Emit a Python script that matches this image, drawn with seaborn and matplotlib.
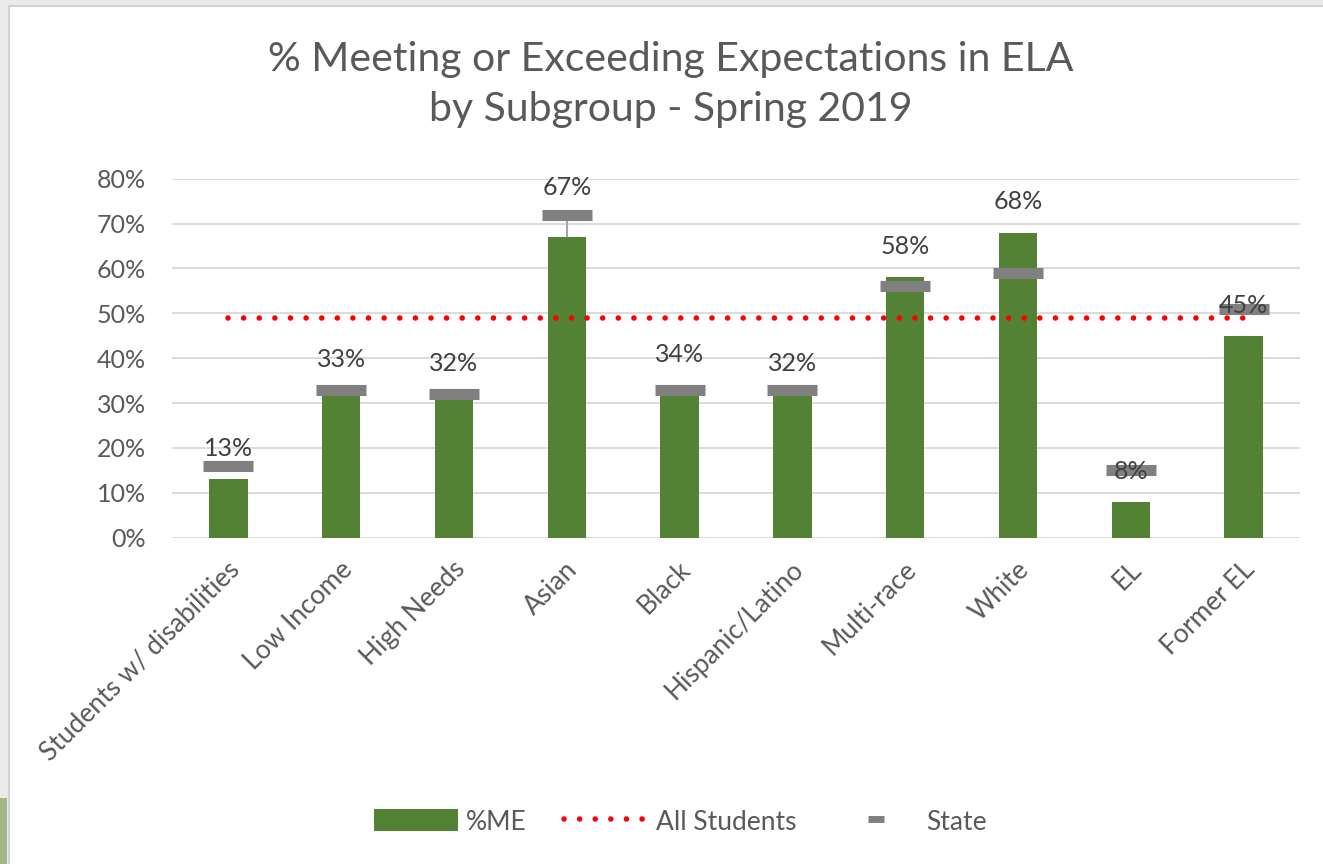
import matplotlib
matplotlib.use("Agg")
import matplotlib.pyplot as plt
from matplotlib.patches import Patch, Rectangle
from matplotlib.lines import Line2D
from matplotlib.ticker import PercentFormatter
from matplotlib.transforms import ScaledTranslation
import seaborn as sns
import pandas as pd

subgroups = [
    "Students w/ disabilities",
    "Low Income",
    "High Needs",
    "Asian",
    "Black",
    "Hispanic/Latino",
    "Multi-race",
    "White",
    "EL",
    "Former EL",
]
pct_me = [13, 33, 32, 67, 34, 32, 58, 68, 8, 45]
state = [16, 33, 32, 72, 33, 33, 56, 59, 15, 51]
all_students = 49

df = pd.DataFrame(
    {
        "Subgroup": subgroups,
        "ME": pct_me,
        "State": state,
        "All": [all_students] * len(subgroups),
    }
)

GREEN = "#548235"
GRAY = "#808080"
TXT = "#595959"
FS = 18

sns.set_theme(style="white")
plt.rcParams["font.family"] = ["Lato", "DejaVu Sans"]

W, H = 1323, 864
fig = plt.figure(figsize=(W / 100, H / 100), dpi=100, facecolor="#ebebeb")
# slide frame + green strip
fig.patches.append(Rectangle((9 / W, -0.01), 1.0, 1 - 6 / H + 0.01, transform=fig.transFigure,
                             facecolor="white", edgecolor="#d2d2d2", lw=1.5, zorder=-2))
fig.patches.append(Rectangle((0, 0), 7 / W, 66 / H, transform=fig.transFigure,
                             facecolor="#a2b68a", edgecolor="none", zorder=-1))

ax = fig.add_axes([172 / W, 1 - 537.7 / H, (1300 - 172) / W, (537.7 - 178.7) / H])
ax.set_facecolor("none")

sns.barplot(data=df, x="Subgroup", y="ME", color=GREEN, width=0.34, saturation=1,
            linewidth=0, ax=ax, zorder=2)

sns.pointplot(data=df, x="Subgroup", y="All", color="#ff0000", marker="none",
              linestyle=":", errorbar=None, ax=ax, zorder=3)
dot_line = ax.lines[-1]
dot_line.set_linewidth(4.0)
dot_line.set_linestyle((0, (0.01, 2.8)))
dot_line.set_dash_capstyle("round")

# thin connector on Asian
ia = subgroups.index("Asian")
ax.vlines(ia, pct_me[ia], state[ia], color="#a6a6a6", lw=1.5, zorder=1.5)

sns.pointplot(data=df, x="Subgroup", y="State", color=GRAY, marker="_", linestyle="none",
              markersize=36, markeredgewidth=8, errorbar=None, ax=ax, zorder=4)

nudge = {"Asian": 14}
for i, (g, v) in enumerate(zip(subgroups, pct_me)):
    ax.annotate(f"{v}%", (i, v), xytext=(0, 22 + nudge.get(g, 0)), textcoords="offset points",
                ha="center", va="center", fontsize=FS, color="#404040", zorder=5)

ax.set_ylim(0, 80)
ax.set_xlim(-0.5, len(subgroups) - 0.5)
ax.set_yticks(range(0, 81, 10))
ax.yaxis.set_major_formatter(PercentFormatter(100, decimals=0))
ax.grid(axis="y", color="#d9d9d9", lw=1.3)
ax.set_axisbelow(True)
for s in ax.spines.values():
    s.set_visible(False)
ax.set_xlabel("")
ax.set_ylabel("")
ax.tick_params(axis="y", length=0, pad=19, labelsize=FS, labelcolor=TXT)
ax.tick_params(axis="x", length=0, pad=20, labelsize=19, labelcolor=TXT)
ax.set_xticks(range(len(subgroups)))
ax.set_xticklabels(subgroups, rotation=45, ha="right", va="center", rotation_mode="anchor")
shift = ScaledTranslation(7 / 100, 0, fig.dpi_scale_trans)
for lab in ax.get_xticklabels():
    lab.set_transform(lab.get_transform() + shift)

fig.text(671 / W, 1 - 60 / H, "% Meeting or Exceeding Expectations in ELA",
         ha="center", va="center", fontsize=29.5, color=TXT)
fig.text(671 / W, 1 - 110 / H, "by Subgroup - Spring 2019",
         ha="center", va="center", fontsize=29.5, color=TXT)

handles = [
    Patch(facecolor=GREEN, edgecolor="none"),
    Line2D([], [], color="#ff0000", lw=4.0, linestyle=(0, (0.01, 2.8)), dash_capstyle="round"),
    Line2D([], [], color=GRAY, marker="_", linestyle="none", markersize=11, markeredgewidth=5),
]
leg = fig.legend(handles, ["%ME", "All Students", "State"], loc="center",
                 bbox_to_anchor=(0.514, 1 - 822 / H), ncol=3, frameon=False, fontsize=19,
                 handlelength=3.2, handleheight=0.9, handletextpad=0.3, columnspacing=1.4)
for t in leg.get_texts():
    t.set_color(TXT)

fig.savefig("out.png", dpi=100, facecolor=fig.get_facecolor())
